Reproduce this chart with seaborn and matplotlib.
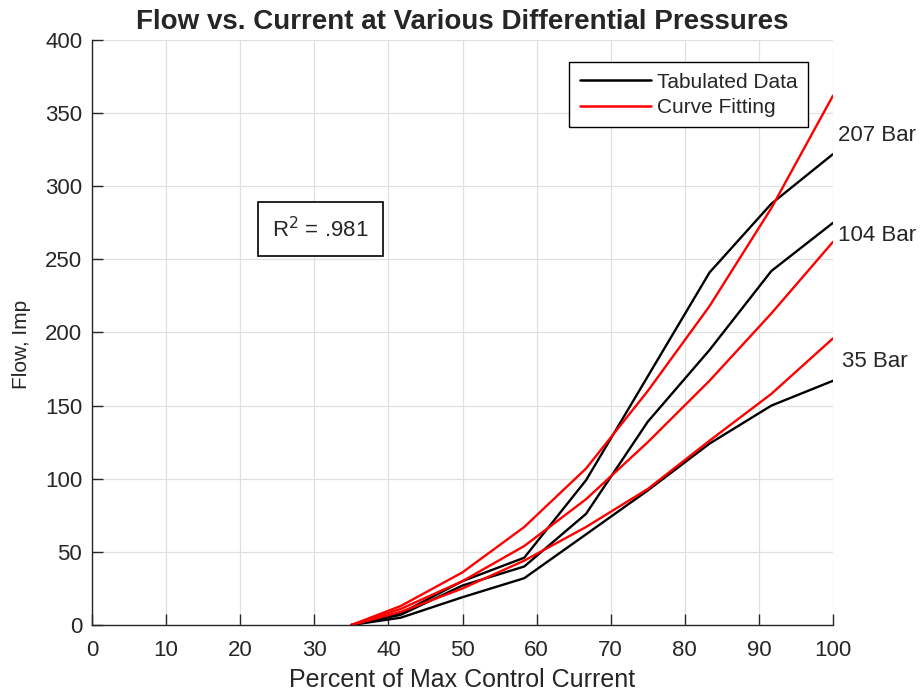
import numpy as np
import pandas as pd
import matplotlib
matplotlib.use("Agg")
import matplotlib.pyplot as plt
import seaborn as sns

# Percent of max control current at which flow was tabulated
current = [35, 41.67, 50, 58.33, 66.67, 75, 83.33, 91.67, 100]

# Tabulated flow (Imp) per differential pressure
tab_207 = [0, 8, 30, 46, 99, 170, 241, 288, 322]
tab_104 = [0, 7, 27, 40, 76, 139, 188, 242, 275]
tab_35 = [0, 5, 19, 32, 62, 92, 124, 150, 167]

# Curve-fit flow (Imp) per differential pressure
fit_207 = [0, 13, 36, 67, 107, 160, 218, 285, 362]
fit_104 = [0, 11, 30, 54, 86, 125, 167, 213, 262]
fit_35 = [0, 9, 25, 44, 67, 93, 126, 158, 196]

pressures = ["207 Bar", "104 Bar", "35 Bar"]
x_ticks = list(range(0, 101, 10))
y_ticks = list(range(0, 401, 50))

rows = []
for p, t, f in zip(pressures, [tab_207, tab_104, tab_35], [fit_207, fit_104, fit_35]):
    for x, y in zip(current, t):
        rows.append({"current": x, "flow": y, "kind": "Tabulated Data", "pressure": p})
    for x, y in zip(current, f):
        rows.append({"current": x, "flow": y, "kind": "Curve Fitting", "pressure": p})
df = pd.DataFrame(rows)

sns.set_theme(style="whitegrid")
plt.rcParams["font.family"] = ["Arial", "Liberation Sans", "DejaVu Sans"]

fig = plt.figure(figsize=(9.22, 6.98), dpi=100)
ax = fig.add_axes([0.0998, 0.1046, 0.8037, 0.8381])

sns.lineplot(
    data=df, x="current", y="flow", hue="kind", units="pressure",
    estimator=None, sort=False, palette={"Tabulated Data": "black", "Curve Fitting": "#ff0000"},
    linewidth=1.7, ax=ax,
)

ax.set_xlim(0, 100)
ax.set_ylim(0, 400)
ax.set_xticks(x_ticks)
ax.set_yticks(y_ticks)
ax.grid(True, color="#e0e0e0", linewidth=0.9)
for s in ["top", "right"]:
    ax.spines[s].set_visible(False)
for s in ["left", "bottom"]:
    ax.spines[s].set_color("#262626")
    ax.spines[s].set_linewidth(1.0)
ax.set_facecolor("white")
ax.tick_params(axis="both", direction="in", length=8, width=1, color="#262626",
               labelsize=16, labelcolor="#262626", pad=7)
ax.tick_params(axis="x", bottom=True, pad=11)
ax.tick_params(axis="y", left=True)

ax.set_xlabel("Percent of Max Control Current", fontsize=18, color="#262626", labelpad=5)
ax.set_ylabel("Flow, Imp", fontsize=15, color="#262626")
ax.yaxis.set_label_coords(-0.082, 0.479)
ax.set_title("Flow vs. Current at Various Differential Pressures", fontsize=20,
             fontweight="bold", pad=8)

# Pressure labels beside the curve ends
ax.text(100.7, 335, "207 Bar", fontsize=16, va="center", ha="left", clip_on=False)
ax.text(100.7, 266, "104 Bar", fontsize=16, va="center", ha="left", clip_on=False)
ax.text(101.2, 180, "35 Bar", fontsize=16, va="center", ha="left", clip_on=False)

ax.text(30.8, 270.5, "R$^2$ = .981", fontsize=16, ha="center", va="center",
        bbox=dict(boxstyle="square,pad=0.65", facecolor="white", edgecolor="black", linewidth=1.2))

leg = ax.legend(loc="upper right", bbox_to_anchor=(0.966, 0.962), fontsize=15,
                handlelength=3.4, frameon=True, fancybox=False, borderpad=0.5,
                labelspacing=0.3, handletextpad=0.3, borderaxespad=0)
leg.get_frame().set_edgecolor("black")
leg.get_frame().set_linewidth(1.0)
leg.get_frame().set_alpha(1)
for line in leg.get_lines():
    line.set_linewidth(1.8)

fig.savefig("out.png", dpi=100)
